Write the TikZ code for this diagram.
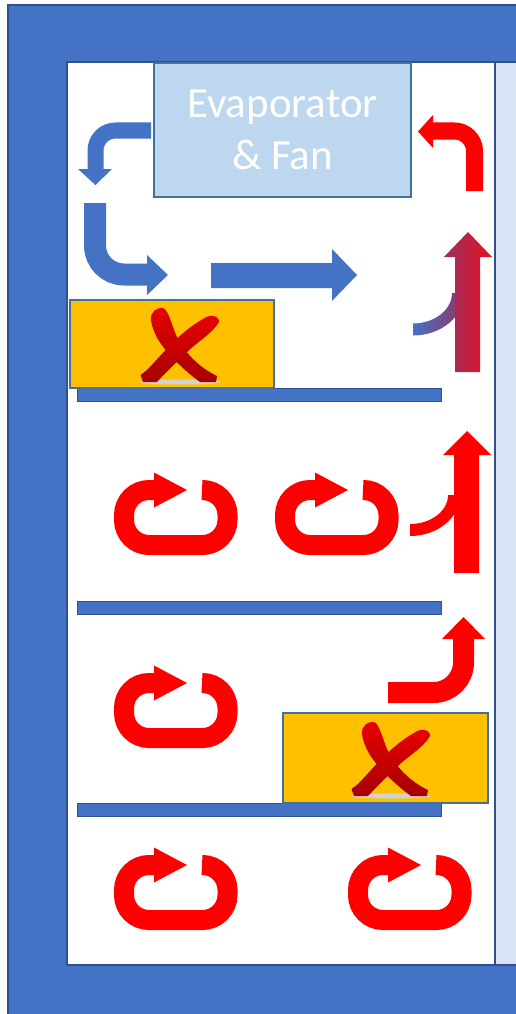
\documentclass[tikz,border=0pt]{standalone}
\usepackage{fontspec}
\setmainfont{Carlito}
\definecolor{frameblue}{HTML}{4472C4}
\definecolor{edgeblue}{HTML}{2F528F}
\definecolor{evapfill}{HTML}{BDD7EE}
\definecolor{evapedge}{HTML}{41719C}
\definecolor{gold}{HTML}{FFC000}
\definecolor{lav}{HTML}{DAE3F3}
\definecolor{xred}{RGB}{232,0,0}
\definecolor{xdark}{RGB}{165,0,0}
\definecolor{mixl}{RGB}{150,50,100}
\definecolor{redr}{RGB}{235,15,30}
\tikzset{
  panel/.style={draw=edgeblue, line width=1.2pt},
  shelf/.style={draw=edgeblue, fill=frameblue, line width=1pt, minimum width=364pt, minimum height=13pt, inner sep=0pt},
  goldbox/.style={draw=evapedge, fill=gold, line width=1.5pt, inner sep=0pt},
  evapbox/.style={draw=evapedge, fill=evapfill, line width=1.5pt, minimum width=257pt, minimum height=134pt, inner sep=0pt, text=white, align=center, font=\fontsize{43}{52}\selectfont},
  bluebend/.style={draw=frameblue, line cap=butt},
  redbend/.style={draw=red, line cap=butt},
  uturnline/.style={draw=red, line width=20pt, rounded corners=25pt},
  uturn/.pic={
    \draw[uturnline] (90,10) -- (114.5,10) -- (114.5,65) -- (11,65) -- (11,10) -- (41,10);
    \fill[red] (41,-7.5) -- (74,10) -- (41,27.5) -- cycle;
  },
  xmark/.pic={
    \fill[gray!35] (40,74) ellipse [x radius=40, y radius=2.5];
    \shade[top color=xred, bottom color=xdark]
      (11,12) .. controls (10,4) and (17,-1) .. (23,0)
      .. controls (29,2) and (32,20) .. (38,31)
      .. controls (46,46) and (60,60) .. (77,68)
      -- (76,74) -- (60,74)
      .. controls (46,64) and (32,50) .. (24,40)
      .. controls (16,30) and (12,20) .. (11,12) -- cycle;
    \shade[top color=xred, bottom color=xdark]
      (63,11) .. controls (69,6) and (79,7) .. (79,14)
      .. controls (72,26) and (57,34) .. (47,44)
      .. controls (37,54) and (27,63) .. (17,74)
      -- (3,74) -- (0.5,67) -- (7,62)
      .. controls (19,50) and (38,25) .. (63,11) -- cycle;
  }
}
\begin{document}
\begin{tikzpicture}[x=1pt,y=-1pt]
\useasboundingbox (0,0) rectangle (515,1014);
\fill[white] (0,0) rectangle (515,1014);
% frame and panels
\fill[frameblue, draw=edgeblue, line width=1.5pt] (8,5) rectangle (530,1030);
\filldraw[panel, fill=white] (67,62) rectangle (495,965);
\filldraw[panel, fill=lav] (495,62) rectangle (530,965);
% shelves
\node[shelf] (s1) at (259,395) {};
\node[shelf] (s2) at (259,608) {};
\node[shelf] (s3) at (259,810) {};
% blocked boxes
\node[goldbox, minimum width=204pt, minimum height=88pt] (b1) at (172,344) {};
\node[goldbox, minimum width=205pt, minimum height=90pt] (b2) at (385.5,758) {};
\pic (x1) at (140,308) {xmark};
\pic (x2) at (351,722) {xmark};
% evaporator
\node[evapbox] (evap) at (282.5,130) {Evaporator\\\& Fan};
% blue (cold) arrows
\draw[bluebend, line width=16pt, rounded corners=20pt] (151,130.5) -- (95.5,130.5) -- (95.5,169);
\fill[frameblue] (78,169) -- (112,169) -- (95.5,185) -- cycle;
\draw[bluebend, line width=22pt, rounded corners=29pt] (95,203) -- (95,274.5) -- (147,274.5);
\fill[frameblue] (147,255) -- (168,275) -- (147,295) -- cycle;
\fill[frameblue] (211,263) -- (332,263) -- (332,249) -- (357,275) -- (332,301) -- (332,288) -- (211,288) -- cycle;
% warm return arrow at top right
\draw[redbend, line width=17pt, rounded corners=20pt] (474.5,191) -- (474.5,131) -- (433,131);
\fill[red] (433,115) -- (418,131.5) -- (433,148) -- cycle;
% gradient arrow with branch
\shade[left color=frameblue, right color=mixl]
  (413,335.5) .. controls (441.2,335.5) and (464,316.5) .. (464,293)
  -- (452,293) .. controls (452,309.8) and (434.5,323.5) .. (413,323.5) -- cycle;
\shade[left color=mixl, right color=redr]
  (455,372) -- (455,257) -- (444,257) -- (468,232) -- (492,257) -- (480,257) -- (480,372) -- cycle;
% middle red arrow with branch
\fill[red]
  (410,536) .. controls (437.6,536) and (460,517.6) .. (460,495)
  -- (448,495) .. controls (448,511) and (431,524) .. (410,524) -- cycle;
\fill[red] (454,573) -- (454,455) -- (443,455) -- (467,431) -- (491,455) -- (479,455) -- (479,573) -- cycle;
% bent up arrow
\draw[redbend, line width=21pt, rounded corners=30pt] (388,692.5) -- (463.5,692.5) -- (463.5,639);
\fill[red] (442,639) -- (463.5,617) -- (485,639) -- cycle;
% recirculating loops
\pic (u1) at (113,480) {uturn};
\pic (u2) at (274,480) {uturn};
\pic (u3) at (113,673) {uturn};
\pic (u4) at (113,855) {uturn};
\pic (u5) at (347,855) {uturn};
\end{tikzpicture}
\end{document}
